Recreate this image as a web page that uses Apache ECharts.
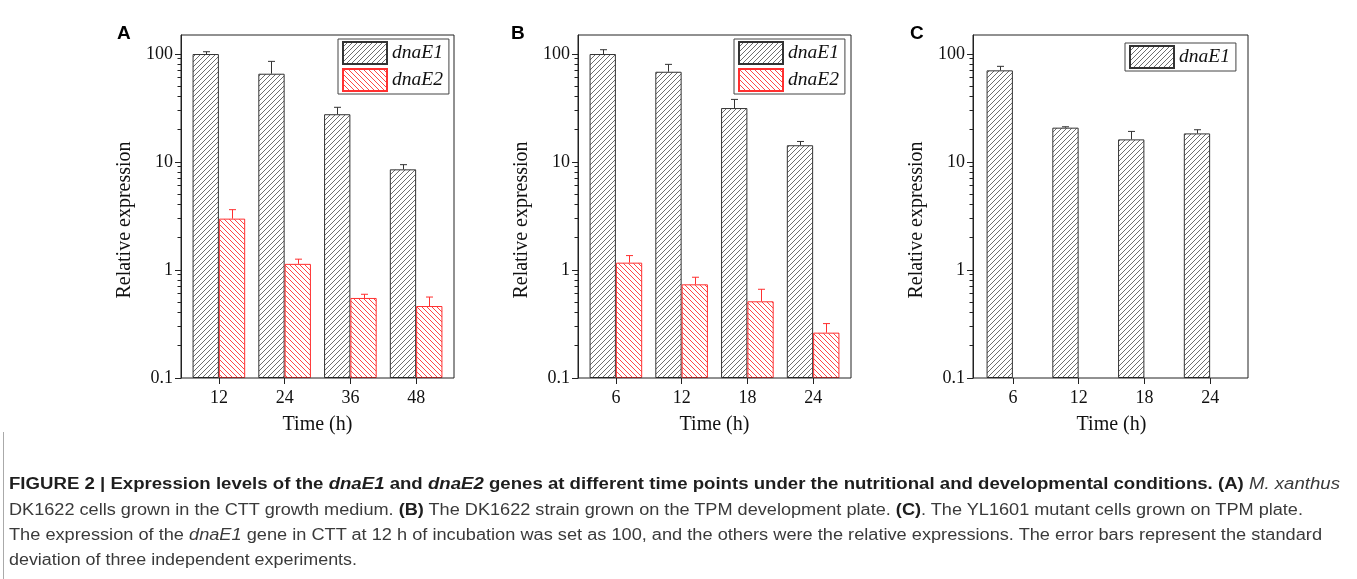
<!DOCTYPE html>
<html><head><meta charset="utf-8">
<script src="https://cdn.jsdelivr.net/npm/echarts@6/dist/echarts.min.js"></script>
<style>
html,body{margin:0;padding:0;background:#fff;}
#chart{position:absolute;left:0;top:0;width:1357px;height:579px;}
.cap{position:absolute;left:9px;font-family:'Liberation Sans',Arial,sans-serif;font-size:16px;line-height:25px;color:#3a3a3a;white-space:nowrap;transform-origin:0 0;}
.cap b{color:#1e1e1e;}
#vline{position:absolute;left:3px;top:432px;width:1px;height:147px;background:#aaa;}
</style></head><body>
<div id="chart"></div>
<div id="vline"></div>
<div class="cap" id="l1" style="top:471px"><b>FIGURE 2 | Expression levels of the <i>dnaE1</i> and <i>dnaE2</i> genes at different time points under the nutritional and developmental conditions. (A)</b> <i>M. xanthus</i></div>
<div class="cap" id="l2" style="top:496.5px">DK1622 cells grown in the CTT growth medium. <b>(B)</b> The DK1622 strain grown on the TPM development plate. <b>(C)</b>. The YL1601 mutant cells grown on TPM plate.</div>
<div class="cap" id="l3" style="top:522px">The expression of the <i>dnaE1</i> gene in CTT at 12 h of incubation was set as 100, and the others were the relative expressions. The error bars represent the standard</div>
<div class="cap" id="l4" style="top:547px">deviation of three independent experiments.</div>
<script>
// ---- data ----
const catA = ['12', '24', '36', '48'];
const catB = ['6', '12', '18', '24'];
const catC = ['6', '12', '18', '24'];
const e1A = [100, 65.7, 27.7, 8.55];
const e1A_sd = [5, 19.8, 4.4, 0.9];
const e2A = [2.99, 1.14, 0.551, 0.464];
const e2A_sd = [0.63, 0.12, 0.045, 0.098];
const e1B = [100, 68.5, 31.6, 14.3];
const e1B_sd = [9.6, 11.7, 6.4, 1.2];
const e2B = [1.17, 0.737, 0.513, 0.263];
const e2B_sd = [0.19, 0.12, 0.15, 0.056];
const e1C = [70.6, 20.8, 16.2, 18.4];
const e1C_sd = [6.3, 0.4, 3.0, 1.5];
const majorTicks = [0.1, 1, 10, 100];
const majorLabels = ['0.1', '1', '10', '100'];
const minorTicks = [0.2, 0.3, 0.4, 0.5, 0.6, 0.7, 0.8, 0.9, 2, 3, 4, 5, 6, 7, 8, 9, 20, 30, 40, 50, 60, 70, 80, 90];
const yMin = 0.1, yMax = 150;

// ---- fit caption lines ----
const capTargets = {l1: 1331, l2: 1294, l3: 1313, l4: 348};
for (const id in capTargets) {
  const el = document.getElementById(id);
  const w = el.getBoundingClientRect().width;
  el.style.transform = 'scaleX(' + (capTargets[id] / w) + ')';
}

// ---- patterns (crisp 1px diagonal hatch) ----
function hatch(r, g2, b, dir) {
  const s = 5;
  const c = document.createElement('canvas');
  c.width = s; c.height = s;
  const g = c.getContext('2d');
  const img = g.createImageData(s, s);
  for (let y = 0; y < s; y++) {
    for (let x = 0; x < s; x++) {
      const on = dir > 0 ? (x === s - 1 - y) : (x === y);
      const i = (y * s + x) * 4;
      img.data[i] = on ? r : 255;
      img.data[i + 1] = on ? g2 : 255;
      img.data[i + 2] = on ? b : 255;
      img.data[i + 3] = 255;
    }
  }
  g.putImageData(img, 0, 0);
  return c;
}
const pat1 = hatch(110, 110, 110, 1);
const pat2 = hatch(255, 70, 70, -1);

const serif = 'Liberation Serif';
const frames = [
  {left: 181, width: 273},
  {left: 578, width: 273},
  {left: 973, width: 275}
];
const datas = [
  {left: 186, width: 263},
  {left: 583, width: 263},
  {left: 980, width: 263}
];
const cats = [catA, catB, catC];
const gTop = 35, gHeight = 343;

const grid = [], xAxis = [], yAxis = [], series = [];
function nearestLabel(v) {
  let bi = 0, bd = 1e9;
  majorTicks.forEach((t, i) => { const d = Math.abs(Math.log10(v) - Math.log10(t)); if (d < bd) { bd = d; bi = i; } });
  return majorLabels[bi];
}
for (let p = 0; p < 3; p++) {
  grid.push({left: frames[p].left, top: gTop, width: frames[p].width, height: gHeight, show: true,
    borderColor: '#222', borderWidth: 1, backgroundColor: 'transparent', z: 5});
  grid.push({left: datas[p].left, top: gTop, width: datas[p].width, height: gHeight});
  xAxis.push({gridIndex: 2 * p, type: 'value', show: false, min: 0, max: 1});
  xAxis.push({gridIndex: 2 * p + 1, type: 'category', data: cats[p],
    axisLine: {show: false},
    axisTick: {show: true, alignWithLabel: true, length: 6, lineStyle: {color: '#222', width: 1}},
    axisLabel: {margin: 11, fontSize: 18, fontFamily: serif, color: '#111'},
    name: 'Time (h)', nameLocation: 'middle', nameGap: 37,
    nameTextStyle: {fontSize: 20, fontFamily: serif, color: '#111'}});
  yAxis.push({gridIndex: 2 * p, type: 'log', logBase: 10, min: yMin, max: yMax, position: 'left',
    axisLine: {show: true, lineStyle: {color: '#222', width: 1}},
    axisTick: {show: true, length: 6, customValues: majorTicks, lineStyle: {color: '#222', width: 1}},
    axisLabel: {show: true, margin: 8, fontSize: 18, fontFamily: serif, color: '#111',
      customValues: majorTicks, formatter: v => nearestLabel(v)},
    splitLine: {show: false}, minorTick: {show: false},
    name: 'Relative expression', nameLocation: 'middle', nameGap: 46,
    nameTextStyle: {fontSize: 20, fontFamily: serif, color: '#111', padding: [0, 27, 0, 0]}});
  yAxis.push({gridIndex: 2 * p + 1, type: 'log', logBase: 10, min: yMin, max: yMax, startValue: yMin,
    show: false, splitLine: {show: false}});
  // log-spaced minor ticks on the frame's left axis, positioned through the frame's scales
  series.push({type: 'custom', xAxisIndex: 2 * p, yAxisIndex: 2 * p, silent: true, clip: false, z: 6,
    data: minorTicks.map(v => [0, v]),
    renderItem: (params, api) => {
      const pt = api.coord([api.value(0), api.value(1)]);
      const x = Math.round(pt[0]) + 0.5;
      const y = Math.round(pt[1] - 0.5) + 0.5;
      return {type: 'line', shape: {x1: x - 4, y1: y, x2: x, y2: y}, style: {stroke: '#222', lineWidth: 1}};
    }});
}

function bar(name, data, p, pat, border) {
  return {type: 'bar', name: name, data: data, xAxisIndex: 2 * p + 1, yAxisIndex: 2 * p + 1,
    barGap: '0%', barCategoryGap: '20%', silent: true,
    itemStyle: {color: {image: pat, repeat: 'repeat'}, borderColor: border, borderWidth: 1}};
}
function err(means, sds, p, side, color) {
  return {type: 'custom', xAxisIndex: 2 * p + 1, yAxisIndex: 2 * p + 1, silent: true, z: 3,
    data: means.map((m, i) => [i, m, m + sds[i]]),
    renderItem: (params, api) => {
      const i = api.value(0);
      const b = api.coord([i, api.value(1)]);
      const t = api.coord([i, api.value(2)]);
      const band = api.size([1, 0])[0];
      const x = Math.round(b[0] + side * band * 0.2) + 0.5;
      const cw = 3.5;
      return {type: 'group', children: [
        {type: 'line', shape: {x1: x, y1: b[1], x2: x, y2: t[1]}, style: {stroke: color, lineWidth: 1}},
        {type: 'line', shape: {x1: x - cw, y1: t[1], x2: x + cw, y2: t[1]}, style: {stroke: color, lineWidth: 1}}
      ]};
    }};
}
const c1 = '#333', c2 = '#ff3030';
series.push(bar('dnaE1', e1A, 0, pat1, c1), bar('dnaE2', e2A, 0, pat2, c2),
  err(e1A, e1A_sd, 0, -1, c1), err(e2A, e2A_sd, 0, 1, c2));
series.push(bar('dnaE1', e1B, 1, pat1, c1), bar('dnaE2', e2B, 1, pat2, c2),
  err(e1B, e1B_sd, 1, -1, c1), err(e2B, e2B_sd, 1, 1, c2));
series.push(bar('dnaE1', e1C, 2, pat1, c1), bar('emptyC', ['-', '-', '-', '-'], 2, pat2, c2),
  err(e1C, e1C_sd, 2, -1, c1));

function legend(left, topv, names) {
  return {left: left, top: topv, orient: 'vertical', data: names, icon: 'rect',
    itemWidth: 44, itemHeight: 22, itemGap: 3, padding: [2, 6, 2, 4],
    borderColor: '#444', borderWidth: 1, backgroundColor: '#fff', selectedMode: false,
    textStyle: {fontFamily: serif, fontStyle: 'italic', fontSize: 19.5, color: '#111'}};
}
const letter = (t, l) => ({text: t, left: l, top: 24, padding: 0,
  textStyle: {fontSize: 19, fontWeight: 'bold', fontFamily: 'Liberation Sans', color: '#000'}});

const chart = echarts.init(document.getElementById('chart'), null, {renderer: 'canvas'});
chart.setOption({
  animation: false,
  backgroundColor: '#fff',
  title: [letter('A', 117), letter('B', 511), letter('C', 910)],
  legend: [legend(338, 39, ['dnaE1', 'dnaE2']), legend(734, 39, ['dnaE1', 'dnaE2']), legend(1125, 43, ['dnaE1'])],
  grid: grid, xAxis: xAxis, yAxis: yAxis, series: series
});
</script>
</body></html>
